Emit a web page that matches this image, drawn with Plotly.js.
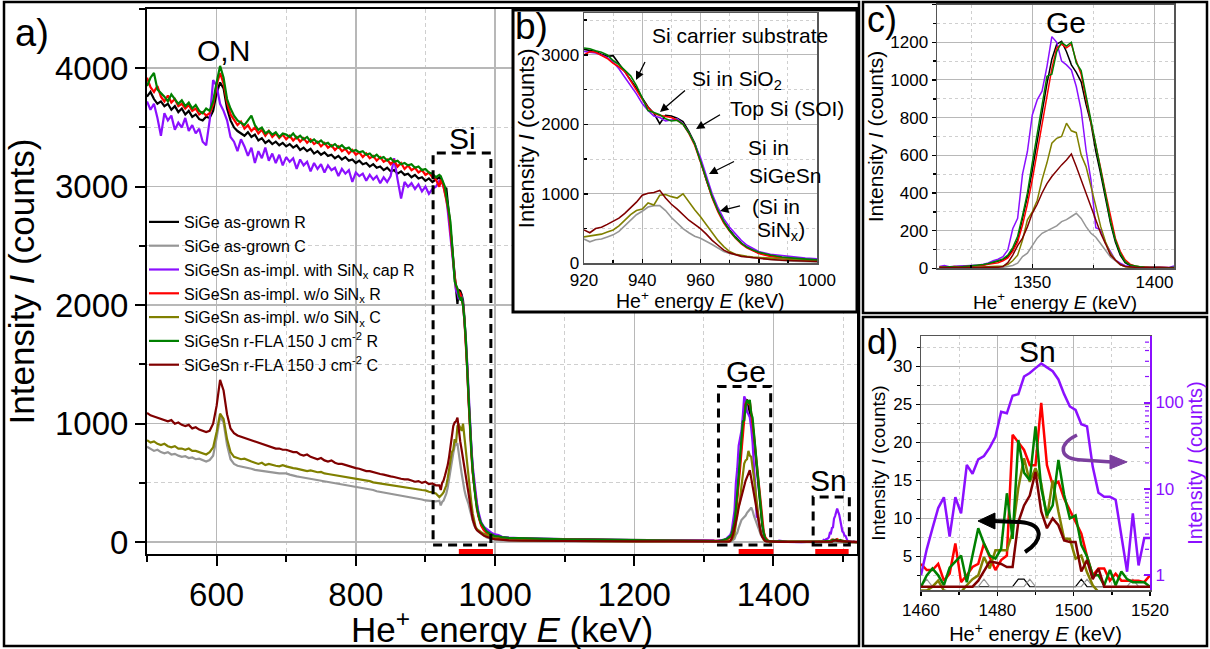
<!DOCTYPE html>
<html><head><meta charset="utf-8">
<script src="https://cdn.plot.ly/plotly-3.0.1.min.js"></script>
<style>html,body{margin:0;padding:0;background:#fff;} #chart{width:1210px;height:649px;}</style>
</head><body><div id="chart"></div>
<script>
// ---------- DATA ----------
// Panel a background region (keV)
const E_bg = [500,505,510,515,520,525,530,535,540,545,550,555,560,565,570,575,580,585,590,595,600,605,610,615,620,625,630,635,640,645,650,655,660,665,670,675,680,685,690,695,700,705,710,715,720,725,730,735,740,745,750,755,760,765,770,775,780,785,790,795,800,805,810,815,820,825,830,835,840,845,850,855,860,865,870,875,880,885,890,895,900,905,910,915];
const K_bg = [3760,3800,3740,3700,3720,3680,3700,3650,3680,3630,3660,3610,3640,3590,3610,3570,3560,3590,3580,3640,3790,3880,3830,3660,3560,3500,3470,3450,3430,3460,3420,3440,3390,3410,3370,3390,3360,3380,3350,3370,3340,3360,3330,3350,3310,3330,3300,3320,3280,3300,3270,3290,3260,3270,3240,3260,3230,3250,3220,3230,3200,3220,3190,3200,3170,3190,3160,3170,3140,3160,3130,3140,3110,3130,3100,3110,3080,3100,3070,3080,3050,3070,3040,3060];
const GR_bg = [805,790,770,780,760,750,760,740,745,730,720,725,710,715,700,705,690,680,693,730,880,1058,1010,820,700,660,645,640,635,625,620,610,605,600,595,590,590,585,580,580,580,570,560,555,550,545,540,535,530,525,520,515,510,505,500,495,490,485,475,470,467,460,455,450,445,440,430,425,420,410,405,400,395,390,385,380,375,370,365,360,352,350,345,345];
const P_bg = [3720,3650,3700,3580,3430,3620,3560,3600,3480,3540,3500,3580,3470,3520,3450,3490,3380,3350,3560,3900,3850,3700,3640,3560,3420,3380,3300,3400,3340,3260,3330,3200,3300,3240,3330,3220,3280,3200,3270,3180,3250,3210,3240,3150,3230,3180,3210,3130,3200,3150,3190,3120,3180,3140,3160,3090,3150,3110,3140,3040,3120,3090,3110,3050,3100,3060,3090,3030,3080,3040,3090,3240,3060,2900,3040,3000,3030,2980,3020,2960,3000,2940,2980,3000];
const R_bg = [3920,3840,3800,3850,3760,3720,3770,3710,3740,3680,3700,3660,3690,3640,3660,3610,3630,3600,3620,3690,3860,3960,3870,3710,3610,3570,3520,3550,3490,3520,3470,3500,3450,3480,3430,3470,3420,3450,3410,3440,3400,3430,3390,3420,3380,3410,3370,3400,3360,3380,3340,3370,3330,3350,3310,3340,3300,3320,3280,3310,3270,3290,3250,3280,3240,3260,3220,3250,3210,3230,3190,3220,3170,3200,3150,3180,3140,3160,3120,3140,3100,3120,3080,3060];
const OL_bg = [860,840,850,830,820,830,810,800,810,790,790,780,790,770,770,760,750,740,760,800,930,1085,1040,870,760,720,710,700,705,690,680,670,660,670,650,660,650,645,640,650,640,630,625,620,615,610,600,605,595,590,593,580,575,570,565,560,555,550,545,545,540,530,525,520,515,505,500,495,490,485,480,475,470,465,460,455,450,445,440,440,437,425,420,410];
const G_bg = [3850,3920,3960,3820,3790,3760,3720,3780,3740,3700,3730,3680,3710,3660,3690,3640,3620,3660,3640,3720,3880,4020,3920,3740,3660,3600,3560,3540,3520,3560,3600,3520,3480,3500,3450,3470,3440,3460,3420,3450,3440,3420,3450,3410,3430,3400,3420,3380,3400,3370,3390,3360,3370,3340,3360,3330,3350,3320,3330,3300,3310,3290,3300,3270,3280,3250,3270,3240,3250,3220,3240,3210,3220,3190,3200,3180,3190,3160,3170,3140,3150,3120,3110,3080];
const DR_bg = [1090,1070,1060,1050,1040,1030,1020,1030,1000,1010,990,980,990,960,970,950,940,930,940,1000,1150,1370,1280,1080,960,920,900,890,880,870,860,850,840,830,820,810,800,790,790,780,780,770,760,760,740,730,740,720,710,700,710,690,680,690,670,660,660,650,640,630,625,620,610,600,600,590,580,575,570,560,555,550,540,535,530,530,520,510,515,500,510,490,495,480];

// Panel b: Si edge (keV)
const E_si = [920,922,924,926,928,930,932,934,936,938,940,942,944,946,948,950,952,954,956,958,960,962,964,966,968,970,972,974,976,978,980,984,988,992,996,1000];
const K_si = [3080,3060,3050,3010,2980,2990,2880,2760,2640,2520,2380,2250,2160,2010,2130,2120,2090,2040,1900,1730,1480,1200,960,760,600,480,380,290,230,190,150,110,80,70,60,55];
const GR_si = [350,310,340,350,380,410,460,540,620,700,750,810,830,830,760,660,580,500,440,390,360,320,270,220,170,140,120,100,90,80,70,55,40,30,25,20];
const P_si = [3050,3040,3030,3000,2960,2900,2800,2680,2560,2440,2300,2200,2120,2100,2050,2070,2080,2010,1880,1720,1520,1260,1000,800,640,520,420,330,260,210,170,130,110,90,75,65];
const R_si = [3000,3050,3040,3000,2950,2880,2830,2760,2620,2500,2360,2240,2160,2130,2110,2100,2060,2000,1870,1700,1460,1190,940,740,580,460,360,280,220,180,140,100,75,60,50,40];
const OL_si = [380,390,405,420,450,480,540,620,700,760,780,870,840,980,990,960,940,1000,880,770,670,560,440,330,240,170,130,110,100,90,85,70,60,50,40,35];
const G_si = [3100,3090,3060,3040,3000,2920,2860,2780,2700,2560,2380,2200,2170,2140,2080,2050,2060,2000,1880,1720,1470,1210,960,760,600,470,370,290,230,190,160,120,90,75,60,50];
const DR_si = [480,440,500,520,560,600,650,720,800,880,980,1010,1020,1050,940,850,780,700,620,560,500,420,330,260,190,150,120,100,90,80,70,55,45,35,30,25];

// Panel a flat middle region (keV)
const E_mid = [1005,1010,1020,1040,1070,1100,1150,1200,1250,1300];
const K_mid = [50,40,35,30,28,25,20,18,15,12];
const GR_mid = [18,15,12,10,9,8,7,6,5,5];
const P_mid = [60,45,38,32,28,24,20,18,15,12];
const R_mid = [40,35,30,28,25,22,18,16,14,10];
const OL_mid = [30,25,20,15,12,10,8,7,6,5];
const G_mid = [50,42,36,30,27,24,20,17,14,11];
const DR_mid = [22,18,15,12,10,9,8,7,6,5];

// Panel c: Ge peak (keV)
const E_ge = [1312,1314,1316,1318,1320,1322,1324,1326,1328,1330,1332,1334,1336,1338,1340,1342,1344,1346,1348,1350,1352,1354,1356,1358,1360,1362,1364,1366,1368,1370,1372,1374,1376,1378,1380,1382,1384,1386,1388,1390,1392,1394,1396,1398,1400,1402,1404,1406,1408];
const K_ge = [5,6,8,6,8,10,10,12,15,18,25,30,35,45,62,97,150,260,380,520,680,830,980,1110,1190,1205,1150,1080,1040,990,870,770,620,500,370,240,140,70,30,14,8,6,5,4,5,3,4,3,2];
const GR_ge = [2,2,2,2,2,2,2,3,3,3,3,3,4,5,9,15,27,62,80,120,160,186,200,210,225,248,258,275,292,265,221,186,165,130,97,60,40,20,10,5,3,2,2,2,2,2,2,2,2];
const P_ge = [10,15,8,10,8,10,12,15,18,22,28,40,48,62,97,210,265,500,620,814,894,940,1071,1230,1200,1100,1080,1053,965,840,628,469,215,204,133,88,44,27,14,10,8,6,5,5,4,5,3,4,12];
const R_ge = [8,5,6,9,7,8,10,12,14,16,22,26,30,40,55,90,140,230,340,470,620,760,900,1060,1170,1190,1170,1190,1100,1030,900,780,660,530,400,270,160,90,45,22,12,8,6,5,4,5,3,4,3];
const OL_ge = [3,4,3,5,4,5,4,5,5,6,6,7,8,12,20,40,70,150,257,300,360,470,560,664,690,700,770,730,720,602,540,440,330,221,140,80,44,20,10,6,5,4,3,3,2,3,2,2,2];
const G_ge = [6,5,8,7,6,9,12,14,16,20,26,32,40,50,70,110,170,280,400,560,720,870,1020,1030,1150,1200,1180,1200,1090,1050,920,790,660,520,390,250,150,80,35,18,12,8,6,5,4,4,5,3,6];
const DR_ge = [3,4,3,4,3,4,4,5,5,5,5,5,5,9,30,70,120,160,220,292,340,400,450,487,520,549,575,607,540,469,400,320,260,186,130,70,44,20,10,6,5,4,3,3,2,3,2,2,2];

// Panel a gap between Ge and Sn (keV)
const E_gap = [1420,1440,1450];
const K_gap = [3,2,2];
const GR_gap = [3,2,2];
const P_gap = [2,1,1];
const R_gap = [3,2,2];
const OL_gap = [3,2,2];
const G_gap = [3,2,2];
const DR_gap = [3,2,2];

// Panel d: Sn peak (keV)
const E_sn = [1460,1461.5,1463,1464.5,1466,1467.5,1469,1470.5,1472,1473.5,1475,1476.5,1478,1479.5,1481,1482.5,1484,1485.5,1487,1488.5,1490,1491.5,1493,1494.5,1496,1497.5,1499,1500.5,1502,1503.5,1505,1506.5,1508,1509.5,1511,1512.5,1514,1515.5,1517,1518.5,1520];
const K_sn = [1,1,1,1,1,1,1,1,1,1,1,1,1,1,1,1,1,2,2,1,1,1,1,1,1,1,1,1,2,1,1,1,1,1,1,1,1,1,1,1,1];
const GR_sn = [1,2,1,1,1,1,1,1,1,1,1,2,1,1,1,1,1,1,1,2,1,1,1,1,1,1,1,1,1,2,1,1,1,1,1,1,1,2,1,1,1];
const P_sn = [1.0,2.0,3.5,6,8,2.8,8,5.2,19,15,22,24,30,40,78,75,120,125,200,220,250,283,255,230,185,125,90,82,56,53,18,9,8.1,8.1,7.5,3,1.1,5.2,1.3,2.7,2.7];
const R_sn = [4.0,3.2,3.2,4.0,1.8,2.7,6.7,1.6,2.5,3.6,4.0,6.7,4.9,3.2,4.5,5.1,21,20,19,17,17,25.2,17,14.4,14.8,12.6,11,9.5,8,5,2.5,3.4,3.4,1.8,2.7,1.8,1.8,1.8,1.8,1.6,2.5];
const OL_sn = [0.5,0.5,1.0,1.8,0.5,0.3,0.3,0.3,1.2,2.0,2.5,4.9,3.4,5.8,5.8,5.8,8.2,14,17.9,14.8,16.6,14.6,10,15,10.9,7.3,7.3,4.7,5.1,2.9,1.2,0.3,0.3,0.3,0.3,0.3,0.3,0.3,0.3,0.3,0.3];
const G_sn = [1.0,2.5,3.4,2.5,1.2,3.5,4.3,5.1,1.6,5,8.7,6.7,5.1,4.7,6.0,13.3,7.3,20.3,16,15,22.1,14,10.4,11.7,17.7,13.1,10,10.4,6.5,5,2.5,2.5,1.2,3.2,1.2,3.0,2.0,1.6,1.6,1.6,1.0];
const DR_sn = [1,1,1,1,1,1,1,1,1,1,1.8,3.0,4.3,4.2,4.0,3.6,3.6,9.5,11.7,13,16.1,10.9,8.7,10,9.1,7.1,6.9,6.9,3.0,4.5,2.0,3.4,1,1,1,1,1,1,1,1,1];

const seriesNames = [
  'SiGe as-grown R',
  'SiGe as-grown C',
  'SiGeSn as-impl. with SiN<sub>x</sub> cap R',
  'SiGeSn as-impl. w/o SiN<sub>x</sub> R',
  'SiGeSn as-impl. w/o SiN<sub>x</sub> C',
  'SiGeSn r-FLA 150 J cm<sup>-2</sup> R',
  'SiGeSn r-FLA 150 J cm<sup>-2</sup> C'
];

// ---------- STYLE ----------
const W = 1210, H = 649;
const FONT = 'Liberation Sans, Arial, Helvetica, sans-serif';
const COLORS = ['#000000', '#969696', '#8b10ff', '#ff0000', '#808000', '#008000', '#800000'];
const PURPLE = '#8b10ff';
const GRID = '#b8b8b8', MINOR = '#cfcfcf';
const px = v => v / W;
const py = v => 1 - v / H;
const P = (x, y) => (x / W).toFixed(5) + ',' + (1 - y / H).toFixed(5);

const bySeries = {
  bg: [K_bg, GR_bg, P_bg, R_bg, OL_bg, G_bg, DR_bg],
  si: [K_si, GR_si, P_si, R_si, OL_si, G_si, DR_si],
  mid: [K_mid, GR_mid, P_mid, R_mid, OL_mid, G_mid, DR_mid],
  ge: [K_ge, GR_ge, P_ge, R_ge, OL_ge, G_ge, DR_ge],
  gap: [K_gap, GR_gap, P_gap, R_gap, OL_gap, G_gap, DR_gap],
  sn: [K_sn, GR_sn, P_sn, R_sn, OL_sn, G_sn, DR_sn]
};

const traces = [];
const E_all = E_bg.concat(E_si, E_mid, E_ge, E_gap, E_sn);
// Panel a
for (let i = 0; i < 7; i++) {
  traces.push({
    type: 'scatter', mode: 'lines', name: seriesNames[i],
    x: E_all,
    y: bySeries.bg[i].concat(bySeries.si[i], bySeries.mid[i], bySeries.ge[i], bySeries.gap[i], bySeries.sn[i]),
    line: {color: COLORS[i], width: 2.2}, xaxis: 'x', yaxis: 'y', hoverinfo: 'skip'
  });
}
// dummy subplot for inset b frame background
traces.push({type: 'scatter', mode: 'lines', x: [], y: [], xaxis: 'x2', yaxis: 'y2', showlegend: false, hoverinfo: 'skip'});
// Panel b
for (let i = 0; i < 7; i++) {
  traces.push({type: 'scatter', mode: 'lines', x: E_si, y: bySeries.si[i], showlegend: false,
    line: {color: COLORS[i], width: 1.6}, xaxis: 'x3', yaxis: 'y3', hoverinfo: 'skip'});
}
// Panel c
for (let i = 0; i < 7; i++) {
  traces.push({type: 'scatter', mode: 'lines', x: E_ge, y: bySeries.ge[i], showlegend: false,
    line: {color: COLORS[i], width: 1.5}, xaxis: 'x4', yaxis: 'y4', hoverinfo: 'skip'});
}
// Panel d (purple on right log axis)
for (let i = 0; i < 7; i++) {
  traces.push({type: 'scatter', mode: 'lines', x: E_sn, y: bySeries.sn[i], showlegend: false,
    line: {color: COLORS[i], width: i < 2 ? 1.2 : 2.5}, xaxis: 'x5', yaxis: i === 2 ? 'y6' : 'y5', hoverinfo: 'skip'});
}

function axisBase(o) {
  return Object.assign({
    showline: true, linecolor: '#000', linewidth: 2, mirror: true,
    ticks: 'outside', tickcolor: '#000', tickwidth: 1.5, ticklen: 5,
    showgrid: true, gridcolor: GRID, gridwidth: 1, zeroline: false,
    tickfont: {family: FONT, size: 17, color: '#000'}, fixedrange: true
  }, o);
}
const titleB = (t, s, size, col) => ({text: t, font: {family: FONT, size: size, color: col || '#000'}, standoff: s});

const layout = {
  width: W, height: H, margin: {l: 0, r: 0, t: 0, b: 0},
  paper_bgcolor: '#fff', plot_bgcolor: '#fff',
  font: {family: FONT, color: '#000'},
  showlegend: true,
  legend: {x: px(144), y: py(205), xanchor: 'left', yanchor: 'top', bgcolor: 'rgba(0,0,0,0)',
    font: {family: FONT, size: 16, color: '#000'}, tracegroupgap: 0},
  // Panel a
  xaxis: axisBase({domain: [px(147), px(857)], range: [500, 1520], anchor: 'y', dtick: 200, tick0: 0,
    ticklen: 10, tickwidth: 2, gridwidth: 1.5,
    tickfont: {family: FONT, size: 33, color: '#000'},
    minor: {dtick: 100, ticks: 'outside', ticklen: 6, tickwidth: 2, tickcolor: '#000', showgrid: true, gridcolor: MINOR, griddash: '4px,3px', gridwidth: 1},
    title: {text: 'He<sup>+</sup> energy <i>E</i> (keV)', font: {family: FONT, size: 35, color: '#000'}, standoff: 0}}),
  yaxis: axisBase({domain: [py(554), py(9)], range: [-100, 4500], anchor: 'x', dtick: 1000, tick0: 0,
    ticklen: 10, tickwidth: 2, gridwidth: 1.5,
    tickfont: {family: FONT, size: 33, color: '#000'},
    minor: {dtick: 500, ticks: 'outside', ticklen: 6, tickwidth: 2, tickcolor: '#000', showgrid: true, gridcolor: MINOR, griddash: '4px,3px', gridwidth: 1},
    title: {text: 'Intensity <i>I</i> (counts)', font: {family: FONT, size: 35, color: '#000'}, standoff: 10}}),
  // dummy for inset b box
  xaxis2: {domain: [px(513), px(857)], range: [0, 1], anchor: 'y2', visible: false, fixedrange: true},
  yaxis2: {domain: [py(312), py(10)], range: [0, 1], anchor: 'x2', visible: false, fixedrange: true},
  // Panel b (x title placed as annotation for exact position)
  xaxis3: axisBase({domain: [px(584), px(817)], range: [920, 1000], anchor: 'y3', dtick: 20, tick0: 0,
    linecolor: '#555', linewidth: 1.5, ticks: 'inside', ticklen: 4, ticklabelstandoff: 1, tickfont: {family: FONT, size: 17, color: '#000'},
    minor: {dtick: 10, ticks: 'inside', ticklen: 3, tickcolor: '#000', showgrid: true, gridcolor: MINOR, griddash: 'dot'}}),
  yaxis3: axisBase({domain: [py(263.3), py(13.3)], range: [0, 3600], anchor: 'x3', dtick: 1000, tick0: 0,
    linecolor: '#555', linewidth: 1.5, ticks: 'inside', ticklen: 4, tickfont: {family: FONT, size: 17, color: '#000'},
    minor: {dtick: 500, ticks: 'inside', ticklen: 3, tickcolor: '#000', showgrid: true, gridcolor: MINOR, griddash: 'dot'},
    title: titleB('Intensity <i>I</i> (counts)', 0, 22)}),
  // Panel c (x title placed as annotation)
  xaxis4: axisBase({domain: [px(937), px(1174)], range: [1311, 1408], anchor: 'y4', dtick: 50, tick0: 0,
    linecolor: '#555', linewidth: 1.5, ticks: 'inside', ticklen: 4, ticklabelstandoff: -2,
    minor: {dtick: 25, ticks: 'inside', ticklen: 3, tickcolor: '#000', showgrid: true, gridcolor: MINOR, griddash: 'dot'}}),
  yaxis4: axisBase({domain: [py(268.3), py(4.6)], range: [0, 1400], anchor: 'x4', dtick: 200, tick0: 0,
    linecolor: '#555', linewidth: 1.5, ticklen: 4,
    minor: {dtick: 100, ticks: 'outside', ticklen: 3, tickcolor: '#000', showgrid: true, gridcolor: MINOR, griddash: 'dot'},
    title: titleB('Intensity <i>I</i> (counts)', 1, 21)}),
  // Panel d
  xaxis5: axisBase({domain: [px(921), px(1150)], range: [1460, 1520], anchor: 'y5', dtick: 20, tick0: 0,
    linecolor: '#555', linewidth: 1.5, ticklen: 4,
    minor: {dtick: 10, ticks: 'outside', ticklen: 3, tickcolor: '#000', showgrid: true, gridcolor: MINOR, griddash: 'dot'},
    title: titleB('He<sup>+</sup> energy <i>E</i> (keV)', 0, 20)}),
  yaxis5: axisBase({domain: [py(590), py(336)], range: [0.57, 34], anchor: 'x5', dtick: 5, tick0: 0,
    linecolor: '#555', linewidth: 1.5, mirror: false, ticklen: 4, tickfont: {family: FONT, size: 17, color: '#000'},
    minor: {dtick: 2.5, ticks: 'outside', ticklen: 3, tickcolor: '#000', showgrid: true, gridcolor: MINOR, griddash: 'dot'},
    title: titleB('Intensity <i>I</i> (counts)', 2, 19)}),
  yaxis6: {type: 'log', range: [-0.17, 2.77], overlaying: 'y5', anchor: 'x5', side: 'right',
    showline: true, linecolor: PURPLE, linewidth: 2, showgrid: false, zeroline: false, fixedrange: true,
    tickvals: [1, 10, 100], ticktext: ['1', '10', '100'], ticks: 'inside', ticklen: 6, tickwidth: 2, tickcolor: PURPLE,
    tickfont: {family: FONT, size: 17, color: PURPLE},
    title: titleB('Intensity <i>I</i> (counts)', 4, 20, PURPLE)},
  shapes: [],
  annotations: []
};

const S = layout.shapes, A = layout.annotations;
// inset b white background + frame
S.push({type: 'rect', xref: 'x2', yref: 'y2', x0: 0, x1: 1, y0: 0, y1: 1, fillcolor: '#fff', line: {width: 0}, layer: 'below'});
S.push({type: 'rect', xref: 'paper', yref: 'paper', x0: px(513), x1: px(857), y0: py(312), y1: py(10), line: {color: '#000', width: 3}});
// panel frames
S.push({type: 'rect', xref: 'paper', yref: 'paper', x0: px(4), x1: px(859), y0: py(646), y1: py(2), line: {color: '#000', width: 2.5}});
S.push({type: 'rect', xref: 'paper', yref: 'paper', x0: px(863), x1: px(1207), y0: py(313), y1: py(2), line: {color: '#000', width: 2.5}});
S.push({type: 'rect', xref: 'paper', yref: 'paper', x0: px(863), x1: px(1207), y0: py(646), y1: py(317), line: {color: '#000', width: 2.5}});
// minor log ticks on the right axis of panel d (decorative tick marks)
[2,3,4,5,6,7,8,9,20,30,40,50,60,70,80,90,200,300,400,500].forEach(v => S.push({type: 'line', xref: 'paper', yref: 'y6',
  x0: px(1149), x1: px(1145), y0: v, y1: v, line: {color: PURPLE, width: 1.2}}));
// dashed region boxes in panel a
const dashBox = {color: '#000', width: 3, dash: '9px,6px'};
S.push({type: 'rect', xref: 'x', yref: 'y', x0: 911, x1: 994, y0: -25, y1: 3285, line: dashBox});
S.push({type: 'rect', xref: 'x', yref: 'y', x0: 1321, x1: 1396, y0: -25, y1: 1314, line: dashBox});
S.push({type: 'rect', xref: 'x', yref: 'y', x0: 1457, x1: 1509, y0: -25, y1: 381, line: dashBox});
// red range bars
[[948, 997], [1350, 1400], [1460, 1508]].forEach(r => S.push({type: 'line', xref: 'x', yref: 'y', x0: r[0], x1: r[1], y0: -78, y1: -78, line: {color: '#ff0000', width: 5}}));
// curved arrows in panel d
S.push({type: 'path', xref: 'paper', yref: 'paper', path: `M ${P(1025,552)} C ${P(1044,540)} ${P(1044,524)} ${P(1020,522)} L ${P(993,521)}`, line: {color: '#000', width: 4}});
S.push({type: 'path', xref: 'paper', yref: 'paper', path: `M ${P(978,521)} L ${P(995,513)} L ${P(995,529)} Z`, fillcolor: '#000', line: {color: '#000', width: 1}});
S.push({type: 'path', xref: 'paper', yref: 'paper', path: `M ${P(1077,435)} C ${P(1057,445)} ${P(1059,459)} ${P(1082,460)} L ${P(1112,462)}`, line: {color: '#7b3f9e', width: 3.5}});
S.push({type: 'path', xref: 'paper', yref: 'paper', path: `M ${P(1127,462)} L ${P(1110,455)} L ${P(1110,469)} Z`, fillcolor: '#7b3f9e', line: {color: '#7b3f9e', width: 1}});

function label(t, x, y, size) {
  A.push({text: t, x: px(x), y: py(y), xref: 'paper', yref: 'paper', showarrow: false, xanchor: 'center', yanchor: 'middle',
    font: {family: FONT, size: size, color: '#000'}});
}
label('a)', 32, 33, 38);
label('O,N', 223, 50, 30);
label('Si', 462, 138, 30);
label('Ge', 746, 371, 30);
label('Sn', 828, 480, 30);
label('b)', 531, 27, 37);
label('Si carrier substrate', 740, 35, 21);
label('Si in SiO<sub>2</sub>', 737, 80, 21);
label('Top Si (SOI)', 787, 109, 21);
label('Si in', 768, 147, 21);
label('SiGeSn', 785, 175, 21);
label('(Si in', 776, 207, 21);
label('SiN<sub>x</sub>)', 781, 231, 21);
label('He<sup>+</sup> energy <i>E</i> (keV)', 700, 300, 19.5);
label('c)', 882, 20, 36);
label('Ge', 1066, 22, 30);
label('He<sup>+</sup> energy <i>E</i> (keV)', 1055, 301, 19);
label('d)', 883, 341, 35);
label('Sn', 1037, 351, 30);

function arrow(tx, ty, hx, hy) {
  A.push({text: ' ', x: px(hx), y: py(hy), xref: 'paper', yref: 'paper', ax: tx - hx, ay: ty - hy,
    showarrow: true, arrowhead: 2, arrowsize: 1.3, arrowwidth: 1.3, arrowcolor: '#000', standoff: 0, startstandoff: 0});
}
arrow(648, 56, 636, 80);
arrow(688, 88, 660, 112);
arrow(723, 113, 696, 129);
arrow(737, 160, 709, 174);
arrow(743, 205, 720, 211);

Plotly.newPlot('chart', traces, layout, {displayModeBar: false, staticPlot: true});
</script></body></html>
